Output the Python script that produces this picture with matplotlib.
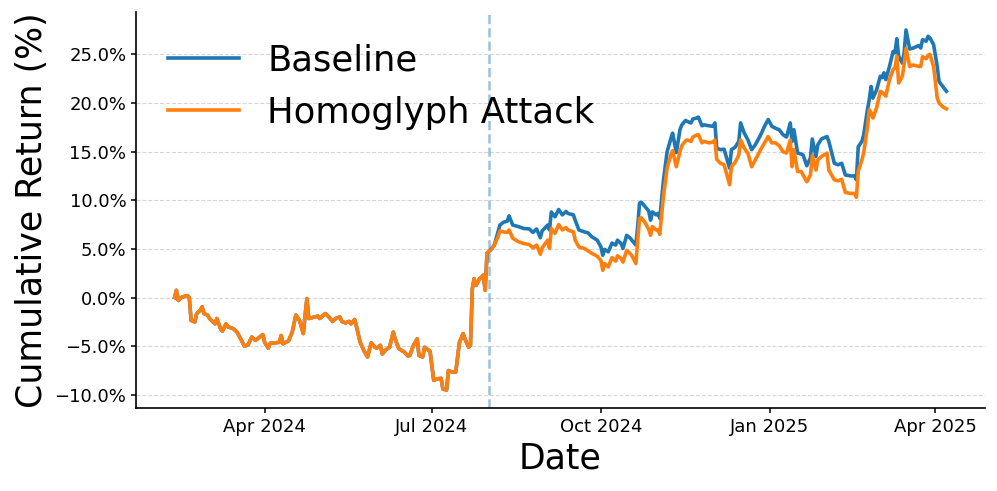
import pandas as pd
import matplotlib
matplotlib.use("Agg")
import matplotlib.pyplot as plt
import matplotlib.dates as mdates
from matplotlib.ticker import PercentFormatter

# Shared path before the attack starts (both series identical)
pre_dates = [
    "2024-02-12", "2024-02-13", "2024-02-14", "2024-02-16", "2024-02-19", "2024-02-20",
    "2024-02-21", "2024-02-23", "2024-02-24", "2024-02-26", "2024-02-27", "2024-02-28",
    "2024-03-01", "2024-03-02", "2024-03-05", "2024-03-06", "2024-03-08", "2024-03-09",
    "2024-03-11", "2024-03-12", "2024-03-15", "2024-03-17", "2024-03-19", "2024-03-21",
    "2024-03-23", "2024-03-25", "2024-03-27", "2024-03-31",
    "2024-04-01", "2024-04-03", "2024-04-04", "2024-04-09", "2024-04-10", "2024-04-11",
    "2024-04-14", "2024-04-16", "2024-04-18", "2024-04-20", "2024-04-22", "2024-04-24",
    "2024-04-25", "2024-04-28", "2024-04-30",
    "2024-05-01", "2024-05-04", "2024-05-06", "2024-05-08", "2024-05-10", "2024-05-12",
    "2024-05-13", "2024-05-15", "2024-05-17", "2024-05-18", "2024-05-20", "2024-05-21",
    "2024-05-23", "2024-05-25", "2024-05-27", "2024-05-29", "2024-05-31",
    "2024-06-01", "2024-06-03", "2024-06-04", "2024-06-06", "2024-06-08", "2024-06-10",
    "2024-06-11", "2024-06-13", "2024-06-16", "2024-06-18", "2024-06-19", "2024-06-21",
    "2024-06-23", "2024-06-24", "2024-06-26", "2024-06-27", "2024-06-28", "2024-06-30",
    "2024-07-02", "2024-07-04", "2024-07-06", "2024-07-07", "2024-07-09", "2024-07-10",
    "2024-07-12", "2024-07-14", "2024-07-16", "2024-07-18", "2024-07-19", "2024-07-21",
    "2024-07-22", "2024-07-23", "2024-07-24", "2024-07-25", "2024-07-27", "2024-07-28",
    "2024-07-29", "2024-07-30", "2024-07-31", "2024-08-02", "2024-08-04",
]
pre_values = [
    0.0, 0.75, -0.3, 0.05, 0.2, 0.0, -2.35, -2.5, -1.65, -1.3, -0.95, -1.65,
    -1.8, -2.15, -2.7, -2.15, -3.2, -3.45, -2.7, -3.0, -3.2, -3.55, -4.25, -5.0,
    -4.85, -4.05, -4.4, -3.8,
    -4.6, -5.2, -4.7, -4.6, -3.9, -4.75, -4.45, -3.55, -1.8, -2.35, -3.7, -0.1,
    -2.15, -2.0, -1.9,
    -2.15, -1.65, -2.0, -2.45, -2.1, -2.0, -2.45, -2.6, -2.45, -2.7, -2.25, -3.0,
    -4.6, -5.45, -6.1, -4.65, -5.1,
    -5.2, -4.9, -5.8, -5.35, -5.1, -3.55, -4.25, -5.25, -5.6, -6.0, -5.95, -4.9,
    -4.25, -5.95, -6.1, -5.1, -5.25, -5.5,
    -8.5, -8.35, -8.3, -9.4, -9.5, -7.5, -7.65, -7.65, -4.6, -3.7, -4.25, -5.1,
    -4.9, 0.9, 1.95, 1.25, 1.95, 2.1, 2.3, 0.75, 4.55, 4.9, 5.4,
]

# After the attack date the two series split
post_dates = [
    "2024-08-06", "2024-08-07", "2024-08-09", "2024-08-11", "2024-08-12", "2024-08-14",
    "2024-08-17", "2024-08-20", "2024-08-23", "2024-08-25", "2024-08-27", "2024-08-29",
    "2024-08-30",
    "2024-09-02", "2024-09-03", "2024-09-04", "2024-09-06", "2024-09-08", "2024-09-10",
    "2024-09-12", "2024-09-13", "2024-09-16", "2024-09-17", "2024-09-19", "2024-09-22",
    "2024-09-24", "2024-09-26", "2024-09-29",
    "2024-10-01", "2024-10-02", "2024-10-03", "2024-10-05", "2024-10-07", "2024-10-09",
    "2024-10-10", "2024-10-12", "2024-10-13", "2024-10-15", "2024-10-17", "2024-10-18",
    "2024-10-20", "2024-10-21", "2024-10-22", "2024-10-23", "2024-10-25", "2024-10-27",
    "2024-10-28", "2024-10-29", "2024-10-31",
    "2024-11-01", "2024-11-02", "2024-11-04", "2024-11-06", "2024-11-08", "2024-11-09",
    "2024-11-11", "2024-11-13", "2024-11-14", "2024-11-16", "2024-11-17", "2024-11-19",
    "2024-11-20", "2024-11-22", "2024-11-23", "2024-11-25", "2024-11-26", "2024-11-29",
    "2024-12-01", "2024-12-02", "2024-12-03", "2024-12-05", "2024-12-07", "2024-12-10",
    "2024-12-11", "2024-12-13", "2024-12-15", "2024-12-16", "2024-12-18", "2024-12-20",
    "2024-12-22", "2024-12-24", "2024-12-27", "2024-12-29", "2024-12-31",
    "2025-01-02", "2025-01-04", "2025-01-06", "2025-01-08", "2025-01-10", "2025-01-12",
    "2025-01-13", "2025-01-14", "2025-01-16", "2025-01-18", "2025-01-19", "2025-01-21",
    "2025-01-23", "2025-01-24", "2025-01-26", "2025-01-27", "2025-01-29",
    "2025-02-01", "2025-02-02", "2025-02-05", "2025-02-07", "2025-02-09", "2025-02-11",
    "2025-02-14", "2025-02-16", "2025-02-17", "2025-02-18", "2025-02-20", "2025-02-21",
    "2025-02-23", "2025-02-24", "2025-02-25", "2025-02-26", "2025-02-28",
    "2025-03-02", "2025-03-03", "2025-03-04", "2025-03-05", "2025-03-07", "2025-03-09",
    "2025-03-10", "2025-03-11", "2025-03-12", "2025-03-14", "2025-03-15", "2025-03-16",
    "2025-03-18", "2025-03-20", "2025-03-23", "2025-03-24", "2025-03-25", "2025-03-27",
    "2025-03-28", "2025-03-29", "2025-03-31",
    "2025-04-02", "2025-04-03", "2025-04-05", "2025-04-07",
]
baseline_post = [
    6.75, 7.45, 7.75, 7.85, 8.4, 7.45, 7.3, 7.1, 7.05, 6.7, 7.05, 6.15, 6.85,
    7.45, 6.95, 8.8, 8.3, 9.05, 8.5, 8.85, 8.65, 8.5, 7.95, 6.95, 6.75, 6.65, 6.25, 5.9,
    5.2, 4.35, 4.95, 4.7, 5.6, 5.4, 5.9, 5.55, 5.05, 6.4, 6.1, 5.85, 5.4, 7.3, 9.7,
    9.8, 9.35, 8.9, 7.95, 8.8, 8.5,
    8.65, 8.15, 12.0, 15.0, 16.3, 16.9, 14.9, 17.25, 17.75, 18.2, 18.1, 17.95, 18.35,
    18.45, 18.55, 17.65, 17.75, 17.65,
    17.6, 17.95, 15.35, 15.2, 15.25, 13.3, 15.2, 15.45, 16.05, 17.95, 16.9, 16.2, 15.2,
    15.7, 16.75, 17.6, 18.3,
    17.6, 17.4, 17.25, 16.75, 16.5, 17.95, 16.05, 17.25, 14.85, 14.75, 14.65, 13.55,
    14.35, 16.3, 14.5, 15.7, 16.3,
    16.55, 16.05, 13.8, 13.65, 13.8, 12.6, 12.5, 12.5, 12.1, 15.5, 16.05, 16.75, 19.3,
    20.35, 21.7, 20.5, 21.35,
    22.75, 22.6, 23.1, 22.4, 23.75, 25.3, 25.15, 26.6, 24.8, 24.1, 25.2, 27.5, 25.55,
    25.65, 25.9, 25.65, 26.5, 26.35, 26.85, 26.7, 26.0,
    23.75, 22.2, 21.7, 21.2,
]
attack_post = [
    6.25, 6.85, 6.75, 6.7, 6.95, 6.1, 5.75, 5.55, 5.45, 5.1, 5.4, 4.45, 5.1,
    5.9, 5.05, 7.1, 6.6, 7.5, 6.95, 7.2, 6.95, 6.75, 5.9, 5.2, 5.05, 4.8, 4.55, 4.25,
    3.8, 2.8, 3.5, 3.15, 4.1, 3.75, 4.3, 4.0, 3.65, 4.85, 4.5, 4.25, 3.5, 5.8, 8.15,
    8.2, 7.7, 7.0, 6.4, 7.3, 6.95,
    6.95, 6.5, 10.4, 13.3, 14.65, 15.1, 13.45, 15.0, 15.6, 16.1, 16.2, 16.05, 16.5,
    16.7, 16.75, 15.9, 16.05, 15.9,
    16.0, 16.2, 14.2, 13.8, 13.65, 11.6, 13.45, 13.9, 14.65, 16.2, 15.35, 14.8, 13.45,
    14.15, 15.25, 15.9, 16.55,
    15.9, 15.9, 15.6, 15.0, 14.85, 16.2, 13.45, 15.2, 12.95, 12.95, 12.6, 11.9,
    12.6, 14.6, 13.1, 14.15, 14.5,
    14.85, 13.1, 12.1, 12.0, 12.15, 10.8, 10.7, 10.7, 10.3, 13.0, 14.15, 14.9, 17.5,
    19.3, 19.0, 18.45, 19.5,
    21.2, 21.1, 20.9, 20.7, 22.4, 23.45, 23.6, 24.8, 22.05, 22.75, 24.0, 25.6, 23.75,
    23.9, 23.75, 23.75, 24.75, 24.55, 24.9, 25.0, 23.75,
    20.5, 20.0, 19.6, 19.4,
]

attack_date = "2024-08-01"

dates = pd.to_datetime(pre_dates + post_dates)
baseline = pre_values + baseline_post
attack = pre_values + attack_post

fig, ax = plt.subplots(figsize=(9.97, 4.91), dpi=100)
fig.subplots_adjust(left=0.1364, right=0.988, top=0.9756, bottom=0.169)

ax.plot(dates, baseline, color="tab:blue", lw=2.6, label="Baseline")
ax.plot(dates, attack, color="tab:orange", lw=2.6, label="Homoglyph Attack")
ax.axvline(pd.Timestamp(attack_date), color="tab:blue", ls="--", lw=1.8, alpha=0.45)

ax.yaxis.set_major_formatter(PercentFormatter(decimals=1))
ax.xaxis.set_major_locator(mdates.MonthLocator(bymonth=[1, 4, 7, 10]))
ax.xaxis.set_major_formatter(mdates.DateFormatter("%b %Y"))
ax.tick_params(labelsize=13, width=1.1)

ax.grid(axis="y", ls="--", alpha=0.5)
ax.spines["top"].set_visible(False)
ax.spines["right"].set_visible(False)
ax.spines["left"].set_linewidth(1.2)
ax.spines["bottom"].set_linewidth(1.2)

ax.set_xlabel("Date", fontsize=25)
ax.set_ylabel("Cumulative Return (%)", fontsize=25)
ax.legend(loc="upper left", fontsize=25.5, frameon=False)

fig.savefig("out.png", dpi=100)
